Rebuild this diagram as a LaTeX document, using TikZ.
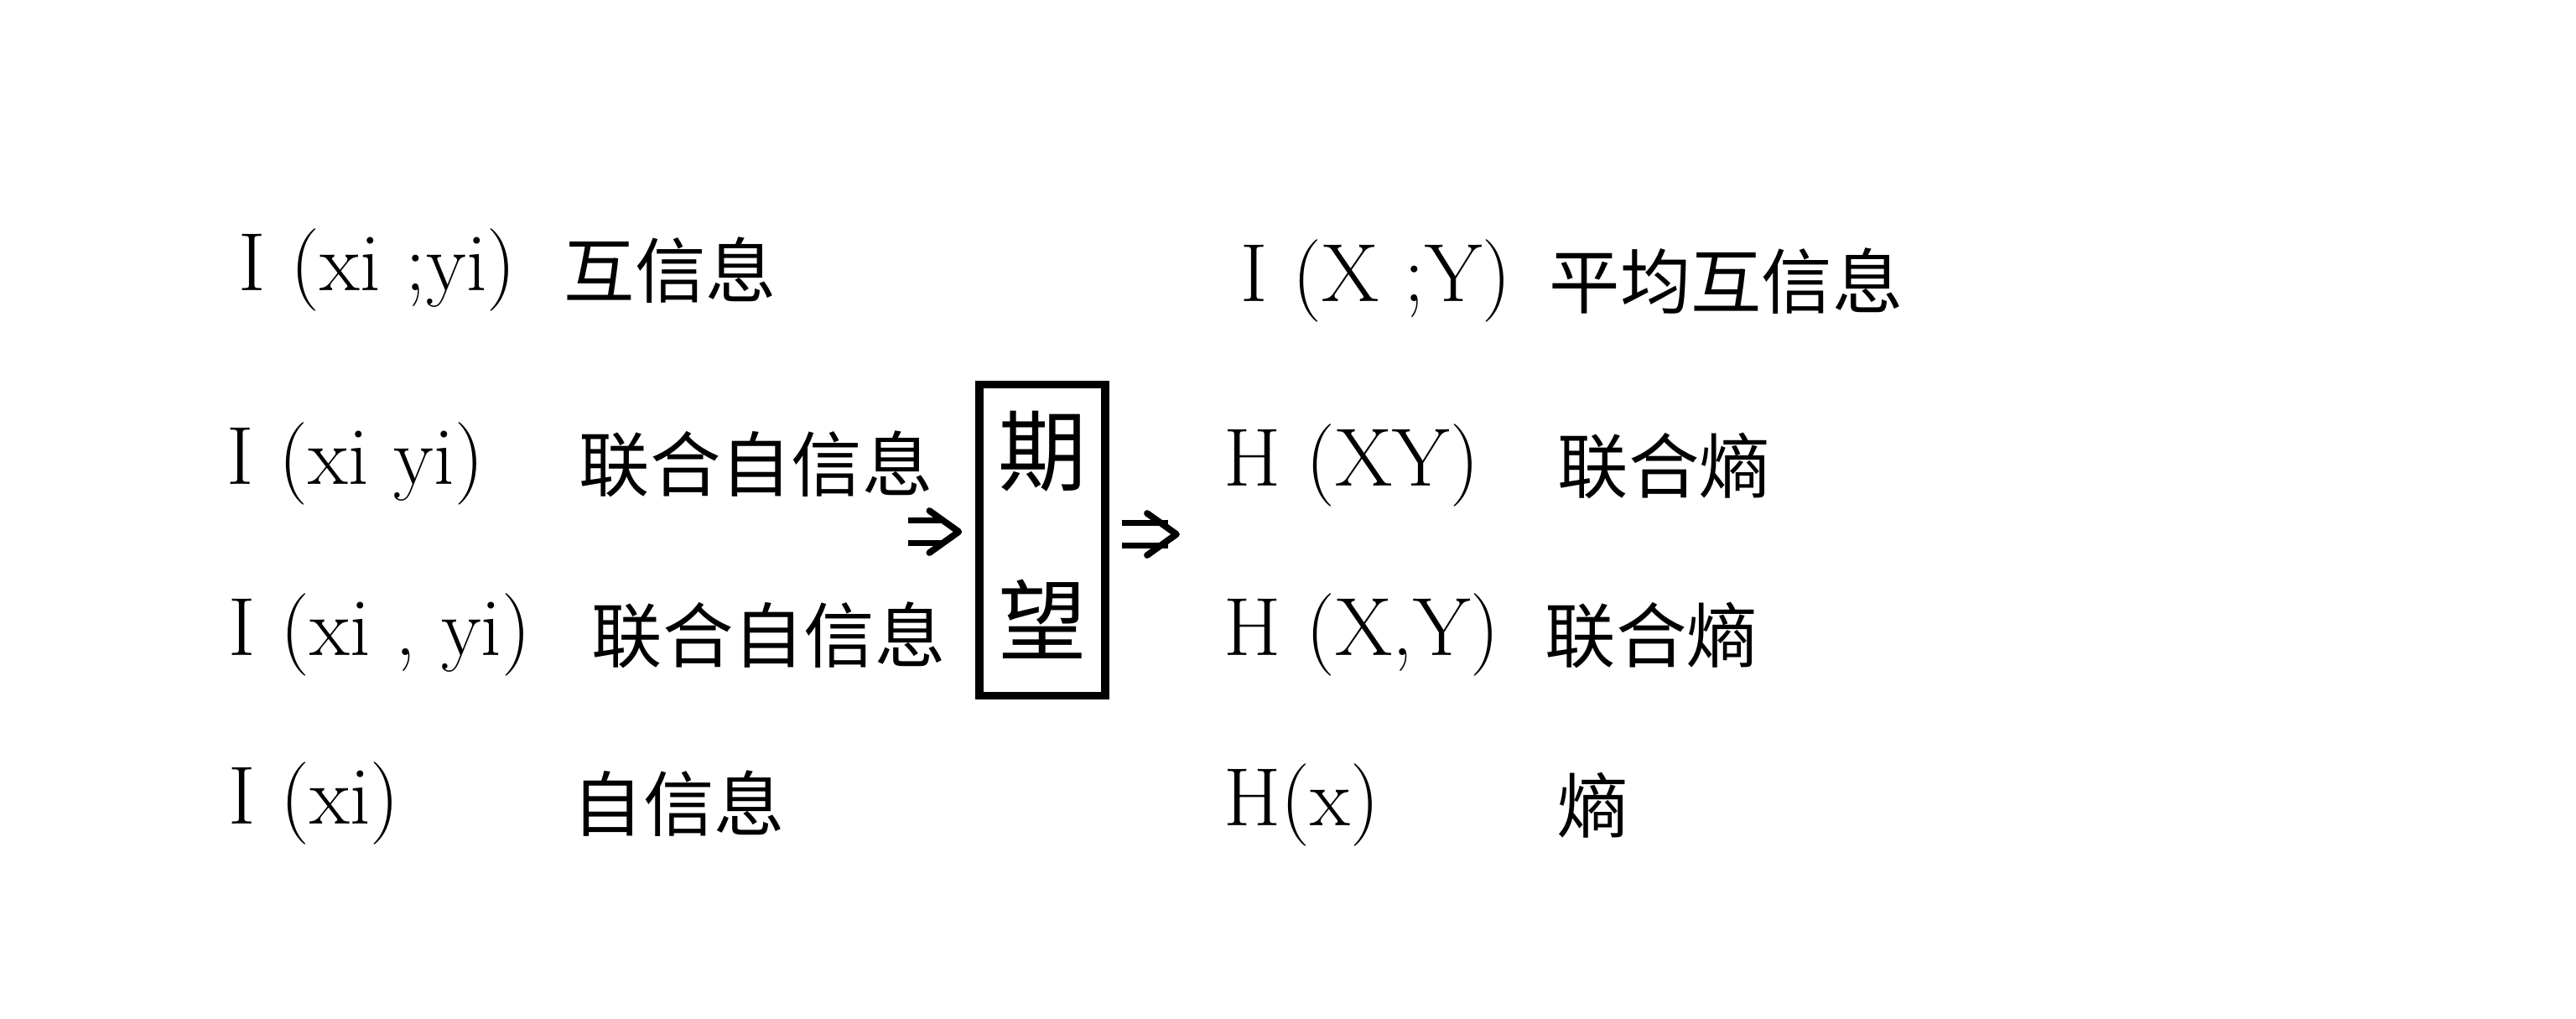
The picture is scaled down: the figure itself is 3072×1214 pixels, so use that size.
\documentclass[tikz,border=0pt]{standalone}
\usepackage{fontspec}
\newfontfamily\cjk{Noto Sans CJK SC}
\usetikzlibrary{arrows.meta}
\begin{document}
\begin{tikzpicture}[x=0.01cm,y=-0.01cm,
  lat/.style={anchor=west,inner sep=0pt,font=\fontsize{28}{32}\selectfont},
  zh/.style={anchor=west,inner sep=0pt,font=\cjk\fontsize{24}{28}\selectfont},
  zhbig/.style={inner sep=0pt,font=\cjk\fontsize{30}{34}\selectfont},
  expbox/.style={draw,line width=2.6pt,minimum width=1.5cm,minimum height=3.7cm,inner sep=0pt},
  dblline/.style={double,double distance=5.5pt,line width=2pt},
  chev/.style={line width=2.2pt,line cap=round,line join=round}]
\useasboundingbox (0,0) rectangle (3072,1214);
% left column
\node[lat] (l1) at (284,322) {I (xi ;yi)};
\node[zh]  (l1t) at (672,322) {互信息};
\node[lat] (l2) at (270,553) {I (xi yi)};
\node[zh]  (l2t) at (690,553) {联合自信息};
\node[lat] (l3) at (272,757) {I (xi , yi)};
\node[zh]  (l3t) at (705,757) {联合自信息};
\node[lat] (l4) at (272,958) {I (xi)};
\node[zh]  (l4t) at (682,958) {自信息};
% box
\node[expbox] (box) at (1243,644) {};
\node[zhbig] (qi) at (1243,538) {期};
\node[zhbig] (wang) at (1243,738) {望};
\coordinate (a1) at (1083,634);
\coordinate (a2) at (1403,637);
% arrow into the box
\draw[dblline] (a1) -- ([xshift=-0.4cm]box.west |- a1);
\draw[chev] ([xshift=-0.55cm,yshift=0.25cm]box.west |- a1) -- ([xshift=-0.2cm]box.west |- a1) -- ([xshift=-0.55cm,yshift=-0.25cm]box.west |- a1);
% arrow out of the box
\draw[dblline] ([xshift=0.15cm]box.east |- a2) -- ([xshift=-0.1cm]a2);
\draw[chev] ([xshift=-0.35cm,yshift=0.25cm]a2) -- (a2) -- ([xshift=-0.35cm,yshift=-0.25cm]a2);
% right column
\node[lat] (r1) at (1479,335) {I (X ;Y)};
\node[zh]  (r1t) at (1847,335) {平均互信息};
\node[lat] (r2) at (1459,555) {H (XY)};
\node[zh]  (r2t) at (1857,555) {联合熵};
\node[lat] (r3) at (1459,757) {H (X,Y)};
\node[zh]  (r3t) at (1842,757) {联合熵};
\node[lat] (r4) at (1459,960) {H(x)};
\node[zh]  (r4t) at (1857,960) {熵};
\end{tikzpicture}
\end{document}
